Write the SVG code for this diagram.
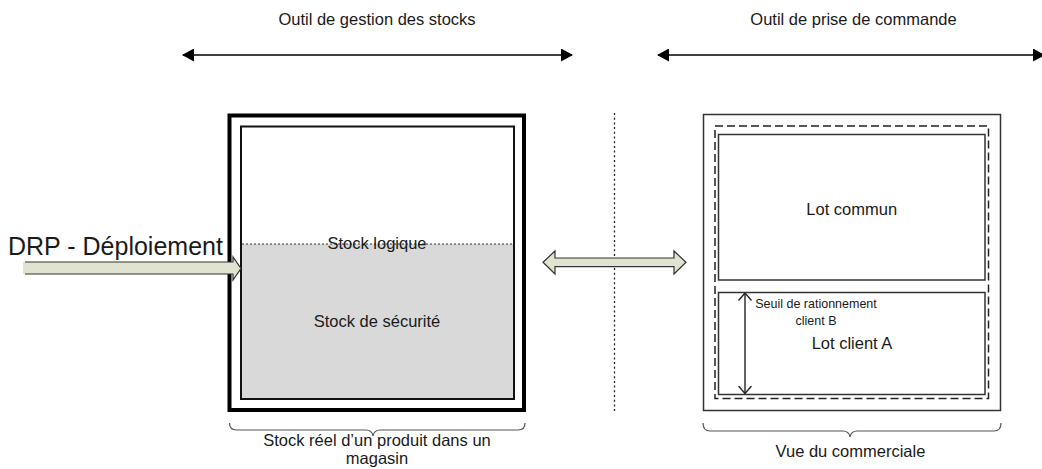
<svg xmlns="http://www.w3.org/2000/svg" width="1042" height="469" viewBox="0 0 1042 469">
<style>
text{font-family:"Liberation Sans",Arial,sans-serif;fill:#1a1a1a}
.t16{font-size:16.5px}
.mid{text-anchor:middle}
.brace{fill:none;stroke:#555;stroke-width:1.2}
.fat{fill:#dfe3cf;stroke:#333;stroke-width:1.2;stroke-linejoin:miter}
.box{fill:#fff;stroke:#333;stroke-width:1.5}
</style>
<defs>
<marker id="ah" viewBox="0 0 12 13" refX="11" refY="6.5" markerWidth="12" markerHeight="13" markerUnits="userSpaceOnUse" orient="auto-start-reverse">
<path d="M0,0 L12,6.5 L0,13 Z" fill="#000"/>
</marker>
<marker id="vh" viewBox="0 0 8 14" refX="7.5" refY="7" markerWidth="8" markerHeight="14" markerUnits="userSpaceOnUse" orient="auto-start-reverse">
<path d="M0,0.5 L7.5,7 L0,13.5" fill="none" stroke="#222" stroke-width="1.4"/>
</marker>
</defs>
<rect width="1042" height="469" fill="#fff"/>

<g id="label-gestion">
<text class="t16 mid" x="377" y="25">Outil de gestion des stocks</text>
</g>
<g id="label-commande">
<text class="t16 mid" x="853.5" y="25">Outil de prise de commande</text>
</g>

<g id="stock-reel">
<rect x="229.5" y="115.5" width="294.5" height="294.5" fill="#fff" stroke="#000" stroke-width="4"/>
<rect x="241" y="244" width="273" height="155" fill="#d9d9d9"/>
<rect x="241" y="126.5" width="273" height="272.5" fill="none" stroke="#111" stroke-width="2"/>
<line x1="242" y1="244" x2="513" y2="244" stroke="#333" stroke-width="1" stroke-dasharray="2 2"/>
<text class="t16 mid" x="377" y="249">Stock logique</text>
<text class="t16 mid" x="377" y="327">Stock de sécurité</text>
</g>

<g id="vue-commerciale">
<rect x="703.5" y="114.5" width="297" height="296" class="box"/>
<rect x="715" y="126" width="273.5" height="272.5" fill="none" stroke="#222" stroke-width="1.5" stroke-dasharray="8 4"/>
<g id="lot-commun">
<rect x="718.5" y="134.5" width="266.5" height="145.5" class="box"/>
<text class="t16 mid" x="851.7" y="214.5">Lot commun</text>
</g>
<g id="lot-client-a">
<rect x="718.5" y="292.5" width="266.5" height="102" class="box"/>
<text class="t16 mid" x="852" y="349.3">Lot client A</text>
<text class="mid" x="816" y="308.3" font-size="12.5">Seuil de rationnement</text>
<text class="mid" x="816" y="324.5" font-size="12.5">client B</text>
</g>
</g>

<g id="drp">
<text x="8" y="255" font-size="25">DRP - Déploiement</text>
</g>

<g id="connectors">
<line x1="183" y1="55" x2="572" y2="55" stroke="#000" stroke-width="1.6" marker-start="url(#ah)" marker-end="url(#ah)"/>
<line x1="658" y1="55" x2="1044" y2="55" stroke="#000" stroke-width="1.6" marker-start="url(#ah)" marker-end="url(#ah)"/>
<line x1="614.5" y1="113" x2="614.5" y2="411" stroke="#222" stroke-width="1.3" stroke-dasharray="2 2.7"/>
<polygon points="23,262 233,262 233,257 241,268.5 233,280 233,274 23,274" fill="#dfe3cf"/>
<path d="M25,262 H233 V257 L241,268.5 L233,280 V274 H25" fill="none" stroke="#333" stroke-width="1.2"/>
<polygon class="fat" points="543,262.3 555,251 555,258 674,258 674,251 686,262.3 674,274 674,266.7 555,266.7 555,274"/>
<line x1="745" y1="293" x2="745" y2="393.5" stroke="#222" stroke-width="1.4" marker-start="url(#vh)" marker-end="url(#vh)"/>
<path class="brace" d="M229.5,423 Q229.5,430 236.5,430 L366,430 Q372,430 373,436 Q374,430 380,430 L518,430 Q525,430 525,423"/>
<path class="brace" d="M703,423 Q703,431 710,431 L843,431 Q849,431 850,437 Q851,431 857,431 L994,431 Q1001,431 1001,423"/>
</g>

<g id="brace-labels">
<text class="t16 mid" x="377" y="446">Stock réel d’un produit dans un</text>
<text class="t16 mid" x="377" y="464">magasin</text>
<text class="t16 mid" x="850.5" y="457">Vue du commerciale</text>
</g>
</svg>
